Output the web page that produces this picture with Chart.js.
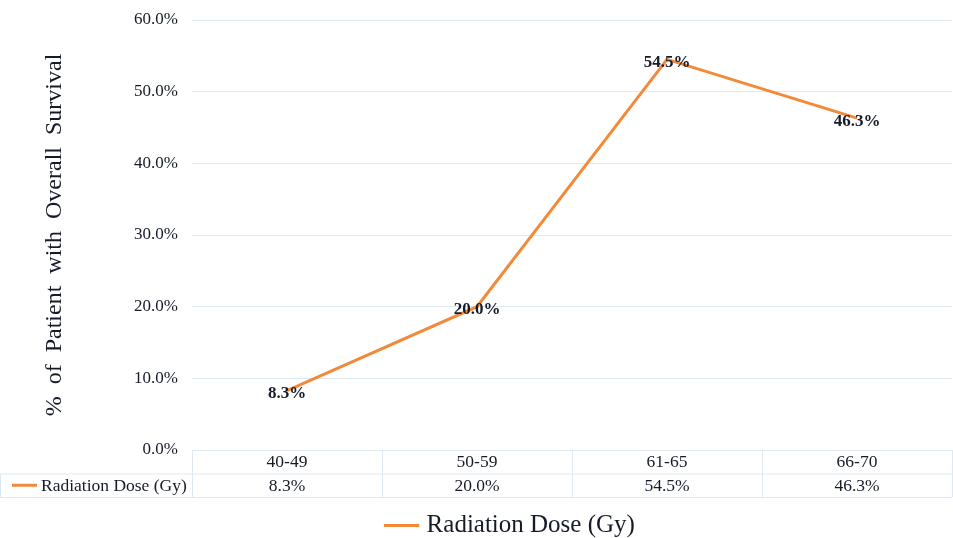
<!DOCTYPE html>
<html>
<head>
<meta charset="utf-8">
<script src="https://cdn.jsdelivr.net/npm/chart.js@4.4.1/dist/chart.umd.min.js"></script>
<style>
    html, body { margin: 0; padding: 0; background: #ffffff; }
    #wrap { width: 953px; height: 538px; position: relative; }
</style>
</head>
<body>
<div id="wrap"><canvas id="chart"></canvas></div>
<script>
// Chart data
const doseRanges = ['40-49', '50-59', '61-65', '66-70'];
const survivalPct = [8.3, 20.0, 54.5, 46.3];
const seriesName = 'Radiation Dose (Gy)';
const yTicks = [0, 10, 20, 30, 40, 50, 60];

const ORANGE = '#f28a3a';
const TEXT = '#161b2a';
const GRID = '#dfe9f4';
const SERIF = '"Liberation Serif", "DejaVu Serif", serif';

// Value labels sitting on each point
const pointLabels = {
    id: 'pointLabels',
    afterDatasetsDraw(chart) {
        const ctx = chart.ctx;
        const meta = chart.getDatasetMeta(0);
        ctx.save();
        ctx.font = 'bold 17px ' + SERIF;
        ctx.fillStyle = TEXT;
        ctx.textAlign = 'center';
        ctx.textBaseline = 'middle';
        meta.data.forEach((pt, i) => {
            ctx.fillText(survivalPct[i].toFixed(1) + '%', pt.x, pt.y + 3);
        });
        ctx.restore();
    }
};

// Data table under the x axis
const dataTable = {
    id: 'dataTable',
    afterDraw(chart) {
        const ctx = chart.ctx;
        const area = chart.chartArea;
        const xs = chart.scales.x;
        const top = area.bottom;
        const rowH = 23.5;
        const colW = (area.right - area.left) / doseRanges.length;
        ctx.save();
        ctx.strokeStyle = GRID;
        ctx.lineWidth = 1;
        ctx.beginPath();
        // horizontal lines
        ctx.moveTo(area.left, top + 0.5); ctx.lineTo(area.right, top + 0.5);
        ctx.moveTo(0, top + rowH + 0.5); ctx.lineTo(area.right, top + rowH + 0.5);
        ctx.moveTo(0, top + rowH * 2 + 0.5); ctx.lineTo(area.right, top + rowH * 2 + 0.5);
        // vertical lines
        for (let i = 0; i <= doseRanges.length; i++) {
            const x = Math.round(area.left + colW * i) + 0.5;
            ctx.moveTo(x, top); ctx.lineTo(x, top + rowH * 2);
        }
        ctx.moveTo(0.5, top + rowH); ctx.lineTo(0.5, top + rowH * 2);
        ctx.stroke();

        ctx.font = '17.5px ' + SERIF;
        ctx.fillStyle = TEXT;
        ctx.textAlign = 'center';
        ctx.textBaseline = 'middle';
        doseRanges.forEach((lab, i) => {
            const x = xs.getPixelForValue(i);
            ctx.fillText(lab, x, top + rowH / 2 + 1);
            ctx.fillText(survivalPct[i].toFixed(1) + '%', x, top + rowH * 1.5 + 1);
        });

        // series key in the table
        ctx.strokeStyle = ORANGE;
        ctx.lineWidth = 3;
        ctx.beginPath();
        ctx.moveTo(12, top + rowH * 1.5);
        ctx.lineTo(37, top + rowH * 1.5);
        ctx.stroke();
        ctx.textAlign = 'left';
        ctx.fillText(seriesName, 41, top + rowH * 1.5 + 1);
        ctx.restore();
    }
};

// nudge the bottom legend to where the original sits
const legendShift = {
    id: 'legendShift',
    afterLayout(chart) {
        chart.legend.left += 72;
        chart.legend.top += 10;
    }
};

new Chart(document.getElementById('chart').getContext('2d'), {
    type: 'line',
    data: {
        labels: doseRanges,
        datasets: [{
            label: seriesName,
            data: survivalPct,
            borderColor: ORANGE,
            backgroundColor: ORANGE,
            borderWidth: 3,
            pointRadius: 0,
            tension: 0
        }]
    },
    options: {
        responsive: true,
        maintainAspectRatio: false,
        animation: false,
        layout: { padding: { top: 20, right: 1, left: 0, bottom: 0 } },
        plugins: {
            tooltip: { enabled: false },
            legend: {
                position: 'bottom',
                labels: {
                    usePointStyle: true,
                    pointStyle: 'line',
                    color: TEXT,
                    font: { family: SERIF, size: 25 },
                    padding: 5
                }
            }
        },
        scales: {
            x: {
                offset: true,
                grid: { display: false },
                border: { display: false },
                ticks: { display: false },
                afterFit: s => { s.height = 48; }
            },
            y: {
                min: 0,
                max: 60,
                afterBuildTicks: s => { s.ticks = yTicks.map(v => ({ value: v })); },
                grid: { color: GRID, drawTicks: false },
                border: { display: false },
                ticks: {
                    color: TEXT,
                    padding: 14,
                    font: { family: SERIF, size: 17 },
                    callback: v => v.toFixed(1) + '%'
                },
                title: {
                    display: true,
                    text: '%  of  Patient  with  Overall  Survival',
                    color: TEXT,
                    font: { family: SERIF, size: 24 },
                    padding: { top: 40, bottom: 0 }
                },
                afterFit: s => {
                    s.width = 192;
                    s.paddingTop = 0;
                    s.paddingBottom = 0;
                }
            }
        }
    },
    plugins: [pointLabels, dataTable, legendShift]
});
</script>
</body>
</html>
